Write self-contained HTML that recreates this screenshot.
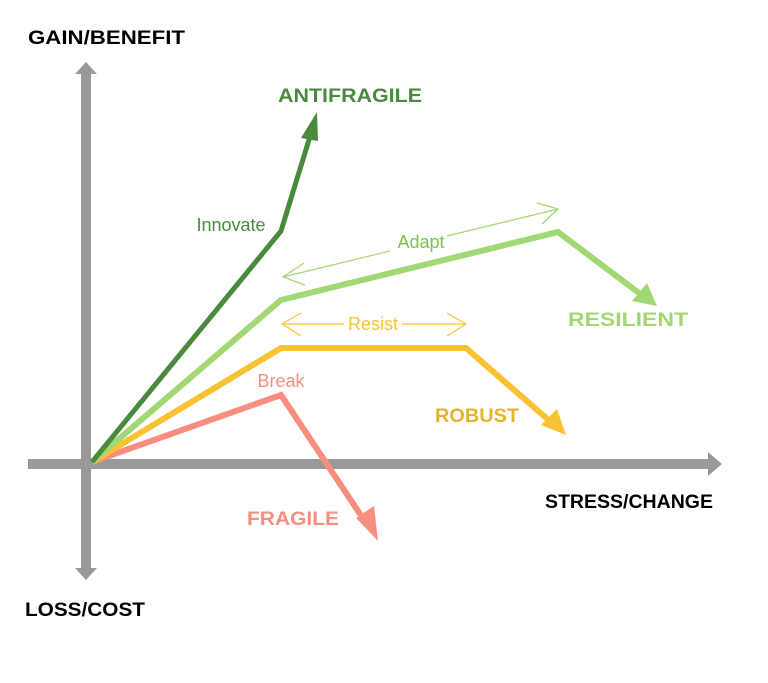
<!DOCTYPE html>
<html><head><style>body{margin:0;background:#fff}svg{display:block}</style></head>
<body>
<svg width="768" height="683" viewBox="0 0 768 683" xmlns="http://www.w3.org/2000/svg" font-family="Liberation Sans, sans-serif">
<rect width="768" height="683" fill="#fff"/>
<rect x="81" y="74" width="10" height="495" fill="#999"/>
<polygon points="75,74 97,74 86,62" fill="#999"/>
<polygon points="75,568 97,568 86,580" fill="#999"/>
<rect x="28" y="459" width="682" height="10" fill="#999"/>
<polygon points="708,452 708,476 722,464" fill="#999"/>
<polyline points="92,462 281,395 368,526" fill="none" stroke="#f98e80" stroke-width="6"/>
<polygon points="378,541 356,518 374,506" fill="#f98e80"/>
<polyline points="92,462 281,348 466,348 552,423" fill="none" stroke="#f9c232" stroke-width="6"/>
<polygon points="566,435 541,425 557,409" fill="#f9c232"/>
<polyline points="92,462 281,300 558,232 643,296" fill="none" stroke="#a1d874" stroke-width="6"/>
<polygon points="657,306 632,301 647,283" fill="#a1d874"/>
<polyline points="92,462 281,231 312,130" fill="none" stroke="#4a8a3f" stroke-width="5"/>
<polygon points="317,112 301,138 318,141" fill="#4a8a3f"/>
<line x1="283" y1="277" x2="390" y2="251" stroke="#a1d874" stroke-width="1.2"/>
<line x1="447" y1="236" x2="558" y2="209" stroke="#a1d874" stroke-width="1.2"/>
<polyline points="304,263 283,277 305,285" fill="none" stroke="#a1d874" stroke-width="1.2"/>
<polyline points="537,203 558,209 542,224" fill="none" stroke="#a1d874" stroke-width="1.2"/>
<text x="421" y="248" font-size="18" fill="#7cbf4e" text-anchor="middle">Adapt</text>
<line x1="282" y1="324" x2="344" y2="324" stroke="#f9c232" stroke-width="1.2"/>
<line x1="402" y1="324" x2="466" y2="324" stroke="#f9c232" stroke-width="1.2"/>
<polyline points="301,313 282,324 301,336" fill="none" stroke="#f9c232" stroke-width="1.2"/>
<polyline points="447,313 466,324 447,336" fill="none" stroke="#f9c232" stroke-width="1.2"/>
<text x="373" y="330" font-size="18" fill="#f9c232" text-anchor="middle">Resist</text>
<text x="231" y="231" font-size="18" fill="#4a8a3f" text-anchor="middle">Innovate</text>
<text x="281" y="387" font-size="18" fill="#f98e80" text-anchor="middle">Break</text>
<g font-weight="bold" font-size="19">
<text x="28" y="44" fill="#000" textLength="157" lengthAdjust="spacingAndGlyphs">GAIN/BENEFIT</text>
<text x="278" y="102" fill="#4a8a3f" textLength="144" lengthAdjust="spacingAndGlyphs">ANTIFRAGILE</text>
<text x="568" y="326" fill="#a1d874" textLength="120" lengthAdjust="spacingAndGlyphs">RESILIENT</text>
<text x="435" y="422" fill="#e5b22c" textLength="84" lengthAdjust="spacingAndGlyphs">ROBUST</text>
<text x="545" y="508" fill="#000" textLength="168" lengthAdjust="spacingAndGlyphs">STRESS/CHANGE</text>
<text x="247" y="525" fill="#f98e80" textLength="92" lengthAdjust="spacingAndGlyphs">FRAGILE</text>
<text x="25" y="616" fill="#000" textLength="120" lengthAdjust="spacingAndGlyphs">LOSS/COST</text>
</g>
</svg>
</body></html>
